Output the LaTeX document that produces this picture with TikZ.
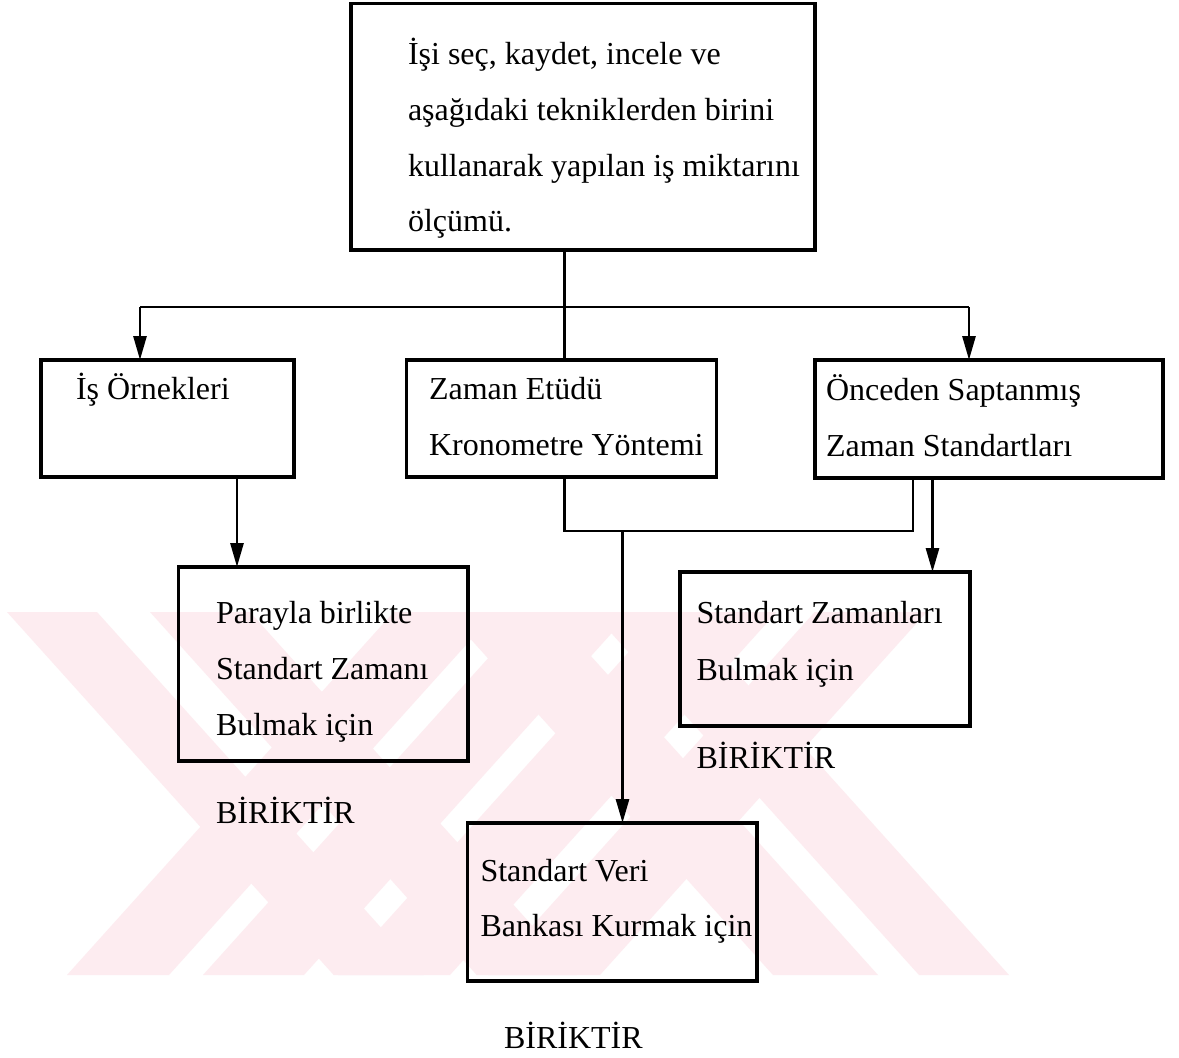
\documentclass[tikz,border=0pt]{standalone}
\usepackage{fontspec}
\setmainfont{Liberation Serif}
\usetikzlibrary{arrows.meta}
\definecolor{wm}{RGB}{253,236,240}
\begin{document}
\begin{tikzpicture}[x=1pt,y=-1pt,
  box/.style={draw=black, line width=3.2pt, inner sep=0pt, outer sep=0pt, rectangle},
  conn/.style={draw=black, line width=2.8pt},
  arr/.style={conn, -{Triangle[length=24pt,width=13pt]}},
  txt/.style={anchor=base west, inner sep=0pt, outer sep=0pt, font=\fontsize{32}{38}\selectfont}]
\fill[white] (0,0) rectangle (1179,1058);
\useasboundingbox (0,0) rectangle (1179,1058);
% watermark bands (slope 0.9), strip y 612..975
\fill[wm] (67,975) -- (169,975) -- (495.7,612) -- (393.7,612) -- cycle;
\fill[wm] (203,975) -- (304,975) -- (630.7,612) -- (529.7,612) -- cycle;
\fill[wm] (338,975) -- (450,975) -- (776.7,612) -- (664.7,612) -- cycle;
\fill[wm] (488,975) -- (600,975) -- (926.7,612) -- (814.7,612) -- cycle;
\fill[wm] (7,612) -- (97,612) -- (423.7,975) -- (333.7,975) -- cycle;
\fill[wm] (150,612) -- (250,612) -- (576.7,975) -- (476.7,975) -- cycle;
\fill[wm] (446.3,612) -- (551.3,612) -- (878,975) -- (773,975) -- cycle;
\fill[wm] (592.3,612) -- (682.3,612) -- (1009,975) -- (919,975) -- cycle;
% boxes
\node[box, minimum width=464pt, minimum height=246.5pt] (top) at (583,126.75) {};
\node[box, minimum width=253pt, minimum height=117pt] (ornek) at (167.5,418.5) {};
\node[box, minimum width=310pt, minimum height=117pt] (zaman) at (561.5,418.5) {};
\node[box, minimum width=348pt, minimum height=118pt] (onceden) at (989,419) {};
\node[box, minimum width=289.5pt, minimum height=194pt] (parayla) at (323.25,664) {};
\node[box, minimum width=290pt, minimum height=154pt] (stdzam) at (825,649) {};
\node[box, minimum width=289.5pt, minimum height=158pt] (veri) at (612.25,902) {};
% texts
\node[txt] (t1) at (408,64) {İşi seç, kaydet, incele ve};
\node[txt] (t2) at (408,120.5) {aşağıdaki tekniklerden birini};
\node[txt] (t3) at (408,176) {kullanarak yapılan iş miktarını};
\node[txt] (t4) at (408,231.5) {ölçümü.};
\node[txt] (o1) at (76,399) {İş Örnekleri};
\node[txt] (z1) at (429,399) {Zaman Etüdü};
\node[txt] (z2) at (429,455.5) {Kronometre Yöntemi};
\node[txt] (n1) at (826,400) {Önceden Saptanmış};
\node[txt] (n2) at (826,456) {Zaman Standartları};
\node[txt] (p1) at (216,623) {Parayla birlikte};
\node[txt] (p2) at (216,679.5) {Standart Zamanı};
\node[txt] (p3) at (216,735) {Bulmak için};
\node[txt] (b1) at (216,823) {BİRİKTİR};
\node[txt] (s1) at (696.5,623) {Standart Zamanları};
\node[txt] (s2) at (696.5,680) {Bulmak için};
\node[txt] (b2) at (696.5,768) {BİRİKTİR};
\node[txt] (v1) at (480.5,881.5) {Standart Veri};
\node[txt] (v2) at (480.5,936.5) {Bankası Kurmak için};
\node[txt] (b3) at (504,1048) {BİRİKTİR};
% connector coordinates
\coordinate (j1) at (564.5,307);
\coordinate (hl) at (140,307);
\coordinate (hr) at (969,307);
\coordinate (c1) at (237,0);
\coordinate (j2) at (564.5,531);
\coordinate (j3) at (913,531);
\coordinate (j4) at (622.5,531);
\coordinate (c2) at (932.5,0);
% connectors
\draw[conn] (j1 |- top.south) -- (j1 |- zaman.north);
\draw[conn] (hl) -- (hr);
\draw[arr] (hl) -- (hl |- ornek.north);
\draw[arr] (hr) -- (hr |- onceden.north);
\draw[arr] (c1 |- ornek.south) -- (c1 |- parayla.north);
\draw[conn] (j2 |- zaman.south) -- (j2) -- (j3) -- (j3 |- onceden.south);
\draw[arr] (j4) -- (j4 |- veri.north);
\draw[arr] (c2 |- onceden.south) -- (c2 |- stdzam.north);
\end{tikzpicture}
\end{document}
